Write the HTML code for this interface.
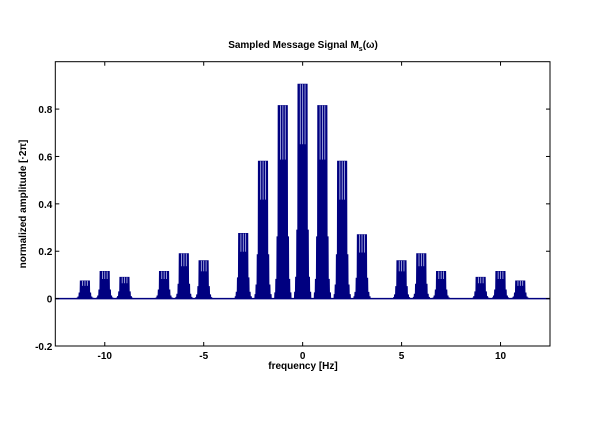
<!DOCTYPE html>
<html><head><meta charset="utf-8"><style>
body{margin:0;background:#fff}
svg{font-family:"Liberation Sans",Arial,sans-serif;font-weight:bold}
</style></head><body>
<svg id="chart" width="612" height="417" viewBox="0 0 612 417" xmlns="http://www.w3.org/2000/svg">
<rect width="612" height="417" fill="#fff"/>
<text x="303" y="48" font-size="10" text-anchor="middle">Sampled Message Signal M<tspan font-size="7" dy="3">s</tspan><tspan dy="-3">(ω)</tspan></text>
<text x="303" y="369" font-size="10" text-anchor="middle">frequency [Hz]</text>
<text transform="translate(26,204) rotate(-90)" font-size="10" text-anchor="middle">normalized amplitude [·2π]</text>
<g id="plot"></g>
<g id="axes"></g>
</svg>
<script>
const clusterFreqs = [-11,-10,-9,-7,-6,-5,-3,-2,-1,0,1,2,3,5,6,7,9,10,11];
const clusterPeaks = [0.075,0.115,0.09,0.115,0.19,0.16,0.275,0.58,0.815,0.905,0.815,0.58,0.27,0.16,0.19,0.115,0.09,0.115,0.075];
const xTicks = [-10,-5,0,5,10];
const yTicks = [-0.2,0,0.2,0.4,0.6,0.8];
const yTickLabels = ['-0.2','0','0.2','0.4','0.6','0.8'];

const L=55.3,R=550,T=61.7,B=346;
const xmin=-12.5,xmax=12.5,ymin=-0.2,ymax=1;
const X=v=>L+(v-xmin)/(xmax-xmin)*(R-L);
const Y=v=>B-(v-ymin)/(ymax-ymin)*(B-T);
const NS='http://www.w3.org/2000/svg';
const plot=document.getElementById('plot');
const axes=document.getElementById('axes');
function mk(tag,attrs,parent){const e=document.createElementNS(NS,tag);for(const k in attrs)e.setAttribute(k,attrs[k]);parent.appendChild(e);return e;}

// baseline
const base=mk('line',{x1:L,x2:R,y1:Y(0),y2:Y(0),stroke:'#000080','stroke-width':1.6},plot);



function env(o){const a=Math.abs(o);if(a<0.24)return 1;if(a<0.3)return 0.32;if(a<0.36)return 0.1;if(a<0.42)return 0.03;return 0;}
clusterFreqs.forEach((f,i)=>{
  const p=clusterPeaks[i];
  const g=mk('g',{},plot);
  
  
  let d='M'+X(f-0.44)+','+Y(0);
  for(let o=-0.44;o<=0.44001;o+=0.01){const h=p*env(o);d+=' L'+X(f+o).toFixed(2)+','+Y(h).toFixed(2);}
  d+=' L'+X(f+0.44)+','+Y(0)+'Z';
  mk('path',{d:d,fill:'#000080',stroke:'#000080','stroke-width':0.8},g);
  // light gaps between teeth
  [-0.12,0,0.12].forEach(o=>{
    mk('line',{x1:X(f+o),x2:X(f+o),y1:Y(p),y2:Y(p*0.72),stroke:'#b8bce8','stroke-width':0.8},g);
  });
});

// axes box
const box=mk('rect',{x:L,y:T,width:R-L,height:B-T,fill:'none',stroke:'#000','stroke-width':1},axes);


xTicks.forEach(t=>{
  mk('line',{x1:X(t),x2:X(t),y1:B,y2:B-4,stroke:'#000'},axes);
  mk('line',{x1:X(t),x2:X(t),y1:T,y2:T+4,stroke:'#000'},axes);
  const tx=mk('text',{x:X(t),y:B+13,'font-size':10,'text-anchor':'middle'},axes);
  tx.textContent=String(t);
  
  
});
yTicks.forEach((t,i)=>{
  mk('line',{x1:L,x2:L+4,y1:Y(t),y2:Y(t),stroke:'#000'},axes);
  mk('line',{x1:R,x2:R-4,y1:Y(t),y2:Y(t),stroke:'#000'},axes);
  const tx=mk('text',{x:L-3,y:Y(t)+4,'font-size':10,'text-anchor':'end'},axes);
  tx.textContent=yTickLabels[i];
  
  
});
</script>
</body></html>
